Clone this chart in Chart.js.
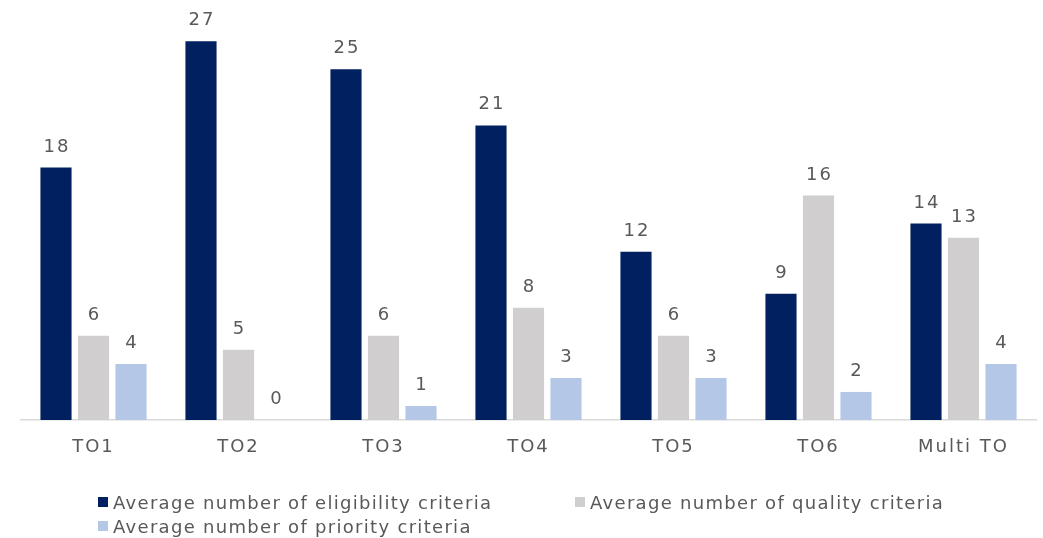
<!DOCTYPE html>
<html>
<head>
<meta charset="utf-8">
<script src="https://cdn.jsdelivr.net/npm/chart.js@4.4.1/dist/chart.umd.min.js"></script>
<style>
    html, body { margin: 0; padding: 0; background: #fff; }
    #wrap { position: relative; width: 1043px; height: 538px; }
    #legend {
        position: absolute; left: 98px; top: 490px;
        display: grid; grid-template-columns: 477px auto;
        font-family: "DejaVu Sans", sans-serif; font-size: 18px; color: #595959;
        letter-spacing: 1.3px;
    }
    #legend .item { display: flex; align-items: center; height: 24px; white-space: nowrap; }
    #legend .box { width: 10px; height: 10px; margin-right: 5px; }
</style>
</head>
<body>
<div id="wrap">
    <canvas id="chart"></canvas>
    <div id="legend"></div>
</div>
<script>
const categories = ['TO1', 'TO2', 'TO3', 'TO4', 'TO5', 'TO6', 'Multi TO']
const eligibility = [18, 27, 25, 21, 12, 9, 14]
const quality = [6, 5, 6, 8, 6, 16, 13]
const priority = [4, 0, 1, 3, 3, 2, 4]

const textColor = '#595959'
const font = { family: 'DejaVu Sans', size: 18 }
const spacing = '2px'

// wider letters for every text drawn on the canvas
const textSpacing = {
    id: 'textSpacing',
    beforeDraw(chart) { chart.ctx.letterSpacing = spacing },
    afterDraw(chart) { chart.ctx.letterSpacing = '0px' }
}

// writes the value over each bar
const barValues = {
    id: 'barValues',
    afterDatasetsDraw(chart) {
        const ctx = chart.ctx
        ctx.save()
        ctx.font = `${font.size}px "${font.family}"`
        ctx.letterSpacing = spacing
        ctx.fillStyle = textColor
        ctx.textAlign = 'center'
        ctx.textBaseline = 'alphabetic'
        chart.data.datasets.forEach((ds, i) => {
            chart.getDatasetMeta(i).data.forEach((bar, j) => {
                ctx.fillText(String(ds.data[j]), bar.x + 1, bar.y - 16)
            })
        })
        ctx.restore()
    }
}

const ctx = document.getElementById('chart')
ctx.width = 1043
ctx.height = 538

const chart = new Chart(ctx, {
    type: 'bar',
    data: {
        labels: categories,
        datasets: [
            { label: 'Average number of eligibility criteria', data: eligibility, backgroundColor: '#002060' },
            { label: 'Average number of quality criteria', data: quality, backgroundColor: '#d0cece' },
            { label: 'Average number of priority criteria', data: priority, backgroundColor: '#b4c7e7' }
        ]
    },
    options: {
        responsive: false,
        animation: false,
        categoryPercentage: 0.776,
        barPercentage: 0.83,
        layout: { padding: { left: 21, right: 7, top: 2, bottom: 82 } },
        plugins: {
            legend: { display: false },
            tooltip: { enabled: false }
        },
        scales: {
            x: {
                grid: { display: false, drawTicks: false },
                border: { display: true, color: '#d9d9d9', width: 1.5 },
                ticks: { color: textColor, font: font, padding: 17 },
                afterFit(scale) { scale.height = 36 }
            },
            y: {
                display: false,
                min: 0,
                max: 29.8
            }
        }
    },
    plugins: [textSpacing, barValues]
})

// legend under the plot
const legend = document.getElementById('legend')
chart.data.datasets.forEach(ds => {
    const item = document.createElement('div')
    item.className = 'item'
    item.innerHTML = `<span class="box" style="background:${ds.backgroundColor}"></span>${ds.label}`
    legend.appendChild(item)
})
</script>
</body>
</html>
